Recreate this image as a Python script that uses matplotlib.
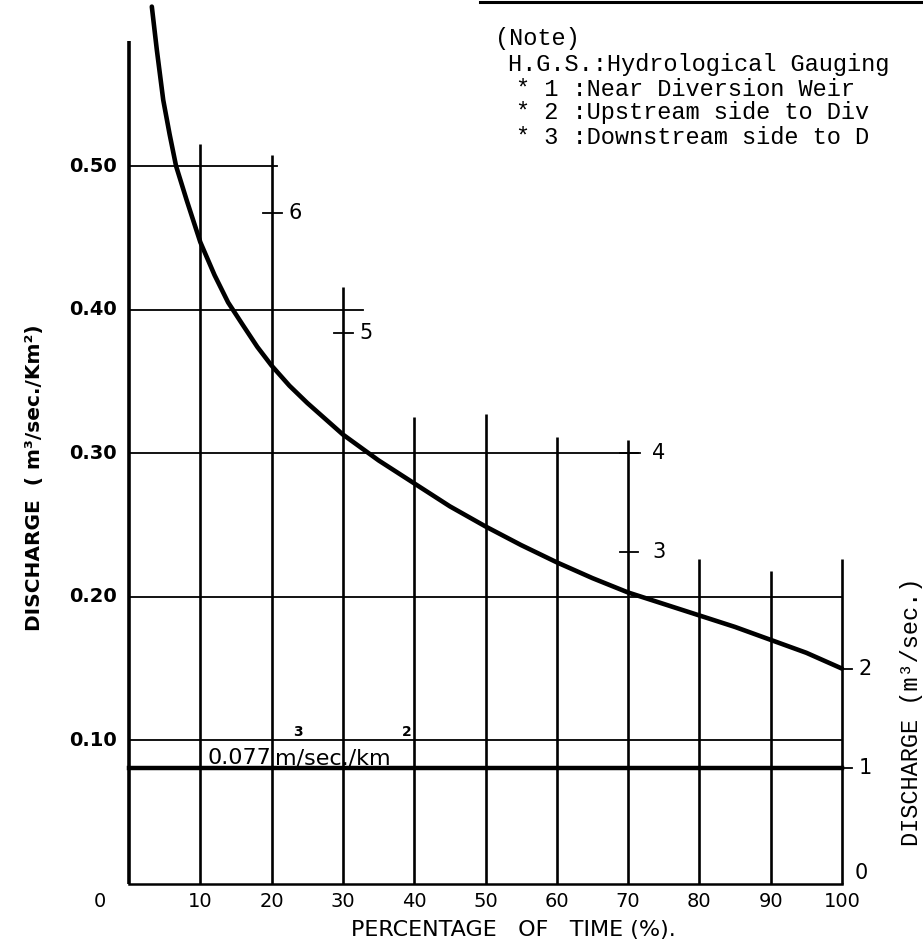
import matplotlib
matplotlib.use("Agg")
import matplotlib.pyplot as plt
from matplotlib.lines import Line2D

# ---------------- data ----------------
# flow-duration curve (percentage of time vs specific discharge m3/s/km2)
curve_x = [3.2, 3.9, 4.8, 5.7, 6.6, 8.1, 10, 12, 13.9, 16, 18, 20, 22.5, 25, 27.5, 30, 35, 40, 45, 50, 55, 60,
           65, 70, 75, 80, 85, 90, 95, 100]
curve_y = [0.611, 0.581, 0.546, 0.522, 0.500, 0.476, 0.447, 0.424, 0.405, 0.389, 0.374, 0.361, 0.347, 0.335,
           0.324, 0.313, 0.295, 0.279, 0.263, 0.249, 0.236, 0.224, 0.213, 0.203, 0.195, 0.187, 0.179, 0.170,
           0.161, 0.150]

# vertical grid lines (percentage) and the height at which each stops
vline_x = [0, 10, 20, 30, 40, 50, 60, 70, 80, 90, 100]
vline_top = [0.587, 0.515, 0.508, 0.416, 0.325, 0.327, 0.311, 0.309, 0.226, 0.218, 0.226]

# horizontal grid lines and the percentage at which each stops
hline_y = [0.50, 0.40, 0.30, 0.20, 0.10]
hline_end = [20.7, 32.8, 71.7, 100, 100]

# firm discharge line
firm_y = 0.081
firm_label = "0.077"

# station marks (H.G.S. numbers)
station_labels = ["1", "2", "3", "4", "5", "6"]
station_x = [100, 100, 70, 70, 30, 20]
station_y = [0.081, 0.150, 0.231, 0.300, 0.384, 0.467]

xtick_vals = [10, 20, 30, 40, 50, 60, 70, 80, 90, 100]
ytick_vals = [0.10, 0.20, 0.30, 0.40, 0.50]

note_lines = ["(Note)",
              "H.G.S.:Hydrological Gauging",
              "* 1 :Near Diversion Weir",
              "* 2 :Upstream side to Div",
              "* 3 :Downstream side to D"]

# ---------------- figure ----------------
W, H = 923, 943
fig = plt.figure(figsize=(W / 100, H / 100), dpi=100)
ax = fig.add_axes([0, 0, 1, 1])
# pixel mapping: px = 129 + 7.13*x ; py(from top) = 884 - 1436*y
ax.set_xlim(-129 / 7.13, (W - 129) / 7.13)
ax.set_ylim((884 - H) / 1436, 884 / 1436)
ax.axis("off")

k = "black"
# vertical lines
for xv, top in zip(vline_x, vline_top):
    ax.plot([xv, xv], [0, top], color=k, lw=2.6 if xv == 0 else 1.9, solid_capstyle="butt")
# bottom axis
ax.plot([0, 100], [0, 0], color=k, lw=1.8)
# horizontal lines
for yv, xe in zip(hline_y, hline_end):
    ax.plot([0, xe], [yv, yv], color=k, lw=1.3)
# firm discharge line
ax.plot([0, 100], [firm_y, firm_y], color=k, lw=3.2)
# curve
ax.plot(curve_x, curve_y, color=k, lw=3.3, solid_capstyle="round", solid_joinstyle="round")

# station ticks + labels
for lab, sx, sy in zip(station_labels, station_x, station_y):
    if sx == 100:
        ax.plot([sx, sx + 1.4], [sy, sy], color=k, lw=1.3)
        ax.text(sx + 3.2, sy, lab, ha="center", va="center", fontsize=15, family="DejaVu Sans")
    else:
        ax.plot([sx - 1.2, sx + 1.4], [sy, sy], color=k, lw=1.3)
        ax.text(sx + (4.3 if sx == 70 else 3.3), sy, lab, ha="center", va="center", fontsize=15,
                family="DejaVu Sans")
ax.text(102.7, 0.0077, "0", ha="center", va="center", fontsize=15, family="DejaVu Sans")

# tick labels
for xv in xtick_vals:
    ax.text(xv, -0.0125, f"{xv}", ha="center", va="center", fontsize=14, family="DejaVu Sans")
ax.text(-4.1, -0.0125, "0", ha="center", va="center", fontsize=14, family="DejaVu Sans")
for yv in ytick_vals:
    ax.text(-1.7, yv, f"{yv:.2f}", ha="right", va="center", fontsize=14, fontweight="bold",
            family="DejaVu Sans")

# axis titles
ax.text(53.9, -0.032, "PERCENTAGE   OF   TIME (%).", ha="center", va="center", fontsize=16,
        family="DejaVu Sans")
ax.text(-13.2, 0.283, "DISCHARGE  ( m³/sec./Km²)", ha="center", va="center", rotation=90,
        fontsize=14.5, fontweight="bold", family="DejaVu Sans")
ax.text(109.7, 0.12, "DISCHARGE (m³/sec.)", ha="center", va="center", rotation=90,
        fontsize=17, family="Liberation Mono")

# firm discharge label
ax.text(10.94, 0.0835, firm_label, ha="left", va="baseline", fontsize=16, family="DejaVu Sans")
ax.text(20.48, 0.0835, "m/sec./km", ha="left", va="baseline", fontsize=16, family="DejaVu Sans")
ax.text(23.7, 0.106, "3", ha="center", va="center", fontsize=10, fontweight="bold", family="DejaVu Sans")
ax.text(39.0, 0.106, "2", ha="center", va="center", fontsize=10, fontweight="bold", family="DejaVu Sans")

# note block
note_x = [495, 508, 516, 516, 516]
note_y = [38, 64, 89, 113, 138]
for t, nx, ny in zip(note_lines, note_x, note_y):
    fig.text(nx / W, 1 - ny / H, t, ha="left", va="center", fontsize=17, family="Liberation Mono")
fig.add_artist(Line2D([480 / W, 1.0], [1 - 2 / H, 1 - 2 / H], color=k, lw=2.2))

fig.savefig("out.png", dpi=100)
